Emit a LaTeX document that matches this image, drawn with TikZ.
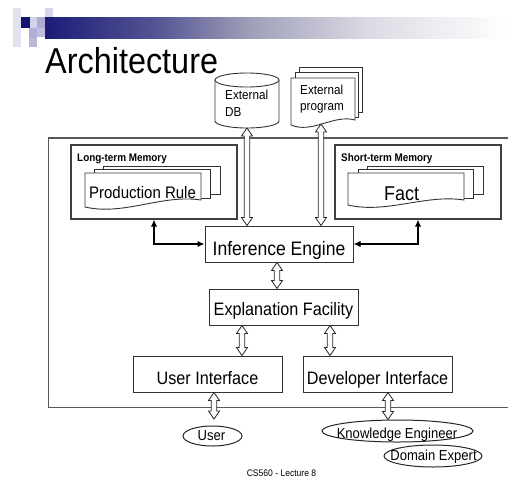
\documentclass[tikz,border=0pt]{standalone}
\usepackage{fontspec}
\setmainfont{Liberation Sans}[FakeStretch=0.9]
\usetikzlibrary{shapes.geometric,arrows.meta,calc}
\pgfdeclarehorizontalshading{titlebar}{100bp}{rgb(0bp)=(0.11,0.11,0.47); rgb(25bp)=(0.11,0.11,0.47); rgb(37bp)=(0.33,0.33,0.58); rgb(47bp)=(0.62,0.62,0.72); rgb(60bp)=(0.86,0.86,0.90); rgb(75bp)=(1,1,1); rgb(100bp)=(1,1,1)}
\newcommand{\fsz}[2]{\fontsize{#1}{#2}\selectfont}
\newcommand{\docfront}[5]{\filldraw[sheet] (#1,#2) -- (#3,#2) -- (#3,#5) .. controls ({#1+(#3-#1)*0.667},{#5-6}) and ({#1+(#3-#1)*0.333},{#4+9}) .. (#1,#4) -- cycle;}
\definecolor{navysq}{RGB}{20,20,110}
\begin{document}
\begin{tikzpicture}[x=1pt,y=-1pt,
  box/.style={draw=black!80, line width=1pt, fill=white, minimum height=36pt, minimum width=149pt, inner sep=0pt, text depth=0pt, font=\fsz{18}{22}},
  membox/.style={draw=black!75, line width=1.2pt, minimum width=166pt, minimum height=74pt, inner sep=0pt},
  memlabel/.style={anchor=base west, inner sep=0pt, font=\bfseries\fsz{11}{13}},
  oval/.style={ellipse, draw=black!85, line width=1pt, fill=white, inner sep=0pt},
  ovaltext/.style={anchor=base, inner sep=0pt, font=\fsz{14.5}{17}},
  sheet/.style={draw=black!80, line width=0.9pt, fill=white},
  outerline/.style={draw=black!65, line width=1.4pt},
  dblarrow/.style={draw=black!85, line width=0.8pt, fill=white, to path={let \p1=(\tikztostart), \p2=(\tikztotarget) in (\x1,\y1) -- (\x1+5.5pt,\y1-8pt) -- (\x1+2.7pt,\y1-8pt) -- (\x1+2.7pt,\y2+8pt) -- (\x1+5.5pt,\y2+8pt) -- (\x1,\y2) -- (\x1-5.5pt,\y2+8pt) -- (\x1-2.7pt,\y2+8pt) -- (\x1-2.7pt,\y1-8pt) -- (\x1-5.5pt,\y1-8pt) -- cycle}},
  solidarr/.style={draw=black, line width=1.8pt, {Latex[length=7pt,width=6.5pt]}-{Latex[length=7pt,width=6.5pt]}},
]
\useasboundingbox (0,0) rectangle (508,477);
% logo squares
\fill[fill={rgb,255:red,225;green,225;blue,240}] (13,8) rectangle (21,47);
\fill[fill={rgb,255:red,215;green,215;blue,235}] (45,8) rectangle (53,17);
\shade[shading=titlebar] (45,17) rectangle (508,38.5);
\fill[navysq] (21,17) rectangle (30,28);
\fill[fill={rgb,255:red,210;green,210;blue,235}] (30,17) rectangle (37,28);
\fill[fill={rgb,255:red,170;green,170;blue,210}] (37,17) rectangle (45,28);
\fill[fill={rgb,255:red,175;green,175;blue,215}] (29,28) rectangle (37,38);
\fill[fill={rgb,255:red,190;green,190;blue,225}] (37,28) rectangle (45,37);
\fill[fill={rgb,255:red,185;green,185;blue,220}] (29,38) rectangle (37,47);
\node[anchor=base west, inner sep=0pt, font=\fsz{36}{40}] (title) at (45,73.5) {Architecture};
% outer system box
\draw[outerline] (510,138) -- (48.5,138) -- (48.5,407.5) -- (510,407.5);
% memories
\node[membox] (ltm) at (154,182) {};
\node[membox] (stm) at (418,182) {};
\node[memlabel] (ltml) at (77,161) {Long-term Memory};
\node[memlabel] (stml) at (341,161) {Short-term Memory};
% production rule stack
\filldraw[sheet] (103,166) rectangle (220,194);
\filldraw[sheet] (94,169.5) rectangle (210,198);
\docfront{85}{173}{201}{207}{200}
\node[anchor=base, font=\fsz{16.7}{20}, inner sep=0pt] (pr) at (142.5,198) {Production Rule};
% fact stack
\filldraw[sheet] (367,166) rectangle (483,194);
\filldraw[sheet] (358,169.5) rectangle (473,198);
\docfront{348}{173}{464}{205}{200}
\node[anchor=base, font=\fsz{20}{24}, inner sep=0pt] (fact) at (401.5,200) {Fact};
% external DB cylinder
\filldraw[sheet] (215,80) -- (215,121) arc[start angle=180, end angle=360, x radius=32pt, y radius=7pt] -- (279,80) -- cycle;
\filldraw[sheet] (247,80) ellipse[x radius=32pt, y radius=7pt];
\node[anchor=north west, align=left, font=\fsz{13}{17.5}, inner sep=0pt] (db) at (225,89.7) {External\\DB};
\coordinate (dbbot) at (247,128);
% external program stack
\filldraw[sheet] (299,67) rectangle (362,112);
\filldraw[sheet] (295,72.5) rectangle (358.5,117);
\docfront{291}{78}{355}{125}{120}
\node[anchor=north west, align=left, font=\fsz{13}{16}, inner sep=0pt] (prog) at (300,84.7) {External\\program};
\coordinate (progbot) at (321,124);
% main boxes
\node[box, minimum width=148pt, font=\fsz{19.5}{22}, text height=22pt] (ie) at (279,244) {Inference Engine};
\node[box, text height=16pt] (ef) at (283.5,307) {Explanation Facility};
\node[box, text height=20pt] (ui) at (207.5,374) {User Interface};
\node[box, text height=20pt] (di) at (377.5,374) {Developer Interface};
% people
\node[oval, minimum width=59pt, minimum height=20pt] (user) at (212.5,436) {};
\node[ovaltext] (usert) at (211.5,440) {User};
\node[oval, minimum width=151pt, minimum height=22pt] (ke) at (397.5,431) {};
\node[ovaltext] (ket) at (397,438) {Knowledge Engineer};
\node[oval, minimum width=98pt, minimum height=22pt] (de) at (433,456) {};
\node[ovaltext] (det) at (433.5,460) {Domain Expert};
\node[anchor=base, font=\fsz{9.5}{11}, inner sep=0pt] (foot) at (281.5,476) {CS560 - Lecture 8};
% helper coordinates
\coordinate (c1) at (277,0);
\coordinate (c2) at (242,0);
\coordinate (c3) at (330,0);
\coordinate (c4) at (214,0);
\coordinate (c5) at (388,0);
\coordinate (usertop) at (214,419);
% connectors
\draw[dblarrow] (dbbot) to (dbbot |- ie.north);
\draw[dblarrow] (progbot) to (progbot |- ie.north);
\draw[dblarrow] (ie.south -| c1) to (ef.north -| c1);
\draw[dblarrow] (ef.south -| c2) to (ui.north -| c2);
\draw[dblarrow] (ef.south -| c3) to (di.north -| c3);
\draw[dblarrow] (ui.south -| c4) to (usertop);
\draw[dblarrow] (di.south -| c5) to (ke.north -| c5);
\draw[solidarr] (ltm.south) |- (ie.west);
\draw[solidarr] (stm.south) |- (ie.east);
\end{tikzpicture}
\end{document}
